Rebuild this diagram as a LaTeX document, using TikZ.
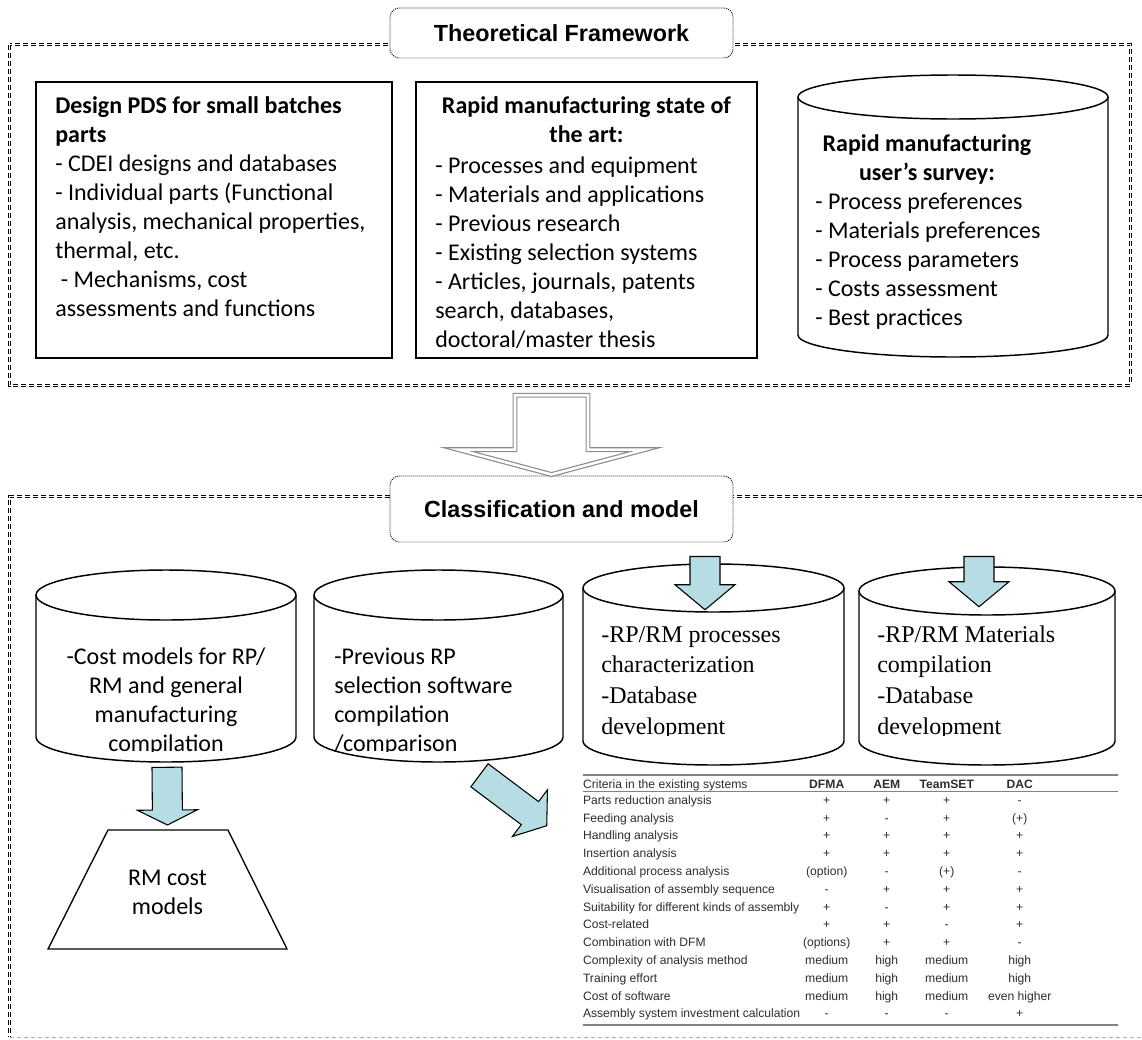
\documentclass[tikz,border=0pt]{standalone}
\usepackage{fontspec}
\setmainfont{Carlito}
\newfontfamily\headfont{Liberation Sans}
\newfontfamily\serffont{Liberation Serif}
\usetikzlibrary{calc,fit}
\definecolor{arrowblue}{RGB}{183,221,228}
\definecolor{hollowgray}{RGB}{140,140,140}
\definecolor{tabrule}{RGB}{130,130,130}
\definecolor{tabtext}{RGB}{45,45,45}

% database drum: name, x left, x right, y top, y bottom, end-ellipse y radius (px)
\newcommand\drum[6]{%
  \node[fit={(#2,#4) (#3,#5)}, inner sep=0] (#1) {};
  \draw[drumline] (#2,#4+#6) -- (#2,#5-#6)
     arc[start angle=180, end angle=360, x radius={(#3-#2)*0.375pt}, y radius={#6*0.75pt}]
     -- (#3,#4+#6)
     arc[start angle=0, end angle=180, x radius={(#3-#2)*0.375pt}, y radius={#6*0.75pt}]
     -- cycle;
  \draw[drumline] (#2,#4+#6)
     arc[start angle=180, end angle=360, x radius={(#3-#2)*0.375pt}, y radius={#6*0.75pt}];
}

% filled block arrow: tail, tip, shaft half width, head half width, head length
\newcommand\fatarrow[5]{%
  \coordinate (fabase) at ($(#2)!#5!(#1)$);
  \draw[bluearrow] ($(#1)!#3!90:(#2)$) -- ($(fabase)!#3!90:(#2)$)
     -- ($(fabase)!#4!90:(#2)$) -- (#2) -- ($(fabase)!#4!-90:(#2)$)
     -- ($(fabase)!#3!-90:(#2)$) -- ($(#1)!#3!-90:(#2)$) -- cycle;
}

\begin{document}
\begin{tikzpicture}[x=0.75pt, y=-0.75pt,
  frame/.style={draw=black, line width=0.6pt, double=white, double distance=0.9pt,
    dash pattern=on 3.75pt off 2.25pt},
  lightdash/.style={draw=black!30, line width=0.6pt, dash pattern=on 3pt off 2.25pt},
  titlebox/.style={draw, fill=white, line width=0.7pt, dash pattern=on 0.7pt off 0.8pt,
    rounded corners=7pt, minimum width=257.25pt, inner sep=0,
    font=\headfont\bfseries\fontsize{17.5}{21}\selectfont},
  box/.style={draw, line width=1.4pt, inner sep=0},
  drumline/.style={draw, line width=1.1pt},
  body/.style={inner sep=0, font=\fontsize{18}{21.75}\selectfont},
  bodybf/.style={inner sep=0, font=\bfseries\fontsize{18}{21.75}\selectfont},
  serif/.style={inner sep=0, font=\serffont\fontsize{18}{23}\selectfont},
  bluearrow/.style={fill=arrowblue, draw=black, line width=0.8pt, line join=miter},
  hollowarrow/.style={draw=hollowgray, line width=0.9pt, double=white,
    double distance=1.9pt, line join=miter},
  tabcell/.style={inner sep=0, text=tabtext, font=\headfont\fontsize{9.1}{10}\selectfont},
  tabhead/.style={tabcell, font=\headfont\bfseries\fontsize{9.1}{10}\selectfont},
  tabline/.style={draw=tabrule}
]
\useasboundingbox (0,0) rectangle (1142,1039);

% ---------------- theoretical framework ----------------
% (multi-line nodes are anchored at the baseline of their last line)
\node[fit={(10,45) (1130,385)}, inner sep=0] (theory) {};
\draw[frame] (theory.north west) rectangle (theory.south east);
\node[titlebox, minimum height=37.5pt] (ttheory) at (561.5,33) {Theoretical Framework};

\node[box, minimum width=267pt, minimum height=207pt] (pds) at (214,220) {};
\node[body, align=left, anchor=base west] (pdstxt) at (55,316)
  {\textbf{Design PDS for small batches}\\\textbf{parts}\\- CDEI designs and databases\\
   - Individual parts (Functional\\analysis, mechanical properties,\\thermal, etc.\\
   \hspace*{0.23em}- Mechanisms, cost\\assessments and functions};

\node[box, minimum width=255.75pt, minimum height=207pt] (art) at (586.5,220) {};
\node[bodybf, align=center, anchor=base] (arthead) at (586.5,142)
  {Rapid manufacturing state of\\the art:};
\node[body, align=left, anchor=base west] (arttxt) at (435,347)
  {- Processes and equipment\\- Materials and applications\\- Previous research\\
   - Existing selection systems\\- Articles, journals, patents\\search, databases,\\
   doctoral/master thesis};

\drum{survey}{798}{1108}{75}{357}{22}
\node[bodybf, align=center, anchor=base] (surveyhead) at (927,180)
  {Rapid manufacturing\\user’s survey:};
\node[body, align=left, anchor=base west] (surveytxt) at (815,325)
  {- Process preferences\\- Materials preferences\\- Process parameters\\
   - Costs assessment\\- Best practices};

% ---------------- classification and model ----------------
\node[fit={(10,497) (1142,1037)}, inner sep=0] (classif) {};
\draw[frame] (classif.north east) -- (classif.north west) -- (classif.south west);
\draw[lightdash] (classif.south west) -- (classif.south east);
\node[titlebox, minimum height=49.5pt] (tclass) at (561.5,509) {Classification and model};

% hollow arrow between the two stages
\coordinate (hs) at ($(theory.south)+(-18.5,10)$);
\coordinate (ht) at ($(tclass.north)+(-10,-1)$);
\draw[hollowarrow] ($(hs)+(-36.5,0)$) -- ($(ht)+(-36.5,-25)$) -- ($(ht)+(-93.5,-25)$)
  -- (ht) -- ($(ht)+(93.5,-25)$) -- ($(ht)+(36.5,-25)$) -- ($(hs)+(36.5,0)$) -- cycle;

\drum{c1}{36}{296}{570}{762}{25}
\drum{c2}{314}{563}{570}{762}{25}
\drum{c3}{583}{844}{564}{765}{24}
\drum{c4}{859}{1115}{567}{765}{24}

\begin{scope}
  \clip (36,600) rectangle (563,751);
  \node[body, align=center, anchor=base] (c1txt) at (166,751)
    {-Cost models for RP/\\RM and general\\manufacturing\\compilation};
  \node[body, align=left, anchor=base west] (c2txt) at (334,751)
    {-Previous RP\\selection software\\compilation\\/comparison};
\end{scope}
\begin{scope}
  \clip (583,600) rectangle (1115,735);
  \node[serif, align=left, anchor=base west] (c3txt) at (601,734)
    {-RP/RM processes\\characterization\\-Database\\development};
  \node[serif, align=left, anchor=base west] (c4txt) at (877,734)
    {-RP/RM Materials\\compilation\\-Database\\development};
\end{scope}

% cost model trapezium
\coordinate (trapTop) at (167.5,830);
\draw[line width=1pt] (48,949) -- (108,830) -- (228,830) -- (287,949) -- cycle;
\node[body, align=center, anchor=base] (rmcost) at (167.5,914) {RM cost\\models};

% comparison table of existing systems
\node[fit={(583,770) (1118,1028)}, inner sep=0] (tab) {};
\begin{scope}[shift={(tab.north west)}]
  \draw[tabline, line width=1.5pt] (0,5) -- (535,5);
  \draw[tabline, line width=1.1pt] (0,22) -- (535,22);
  \draw[tabline, line width=1.8pt] (0,255) -- (535,255);
  \node[tabcell, anchor=base west] (th0) at (0,18.5) {Criteria in the existing systems};
  \node[tabhead, anchor=base] (th1) at (244,18.5) {DFMA};
  \node[tabhead, anchor=base] (th2) at (304,18.5) {AEM};
  \node[tabhead, anchor=base] (th3) at (364,18.5) {TeamSET};
  \node[tabhead, anchor=base] (th4) at (437,18.5) {DAC};
  \foreach \lab/\va/\vb/\vc/\vd [count=\i] in {
    Parts reduction analysis/+/+/+/-,
    Feeding analysis/+/-/+/(+),
    Handling analysis/+/+/+/+,
    Insertion analysis/+/+/+/+,
    Additional process analysis/(option)/-/(+)/-,
    Visualisation of assembly sequence/-/+/+/+,
    Suitability for different kinds of assembly/+/-/+/+,
    Cost-related/+/+/-/+,
    Combination with DFM/(options)/+/+/-,
    Complexity of analysis method/medium/high/medium/high,
    Training effort/medium/high/medium/high,
    Cost of software/medium/high/medium/even higher,
    Assembly system investment calculation/-/-/-/+}
  {
    \pgfmathsetmacro\yb{34.5+(\i-1)*17.8}
    \node[tabcell, anchor=base west] (r\i-0) at (0,\yb) {\lab};
    \node[tabcell, anchor=base] (r\i-1) at (244,\yb) {\va};
    \node[tabcell, anchor=base] (r\i-2) at (304,\yb) {\vb};
    \node[tabcell, anchor=base] (r\i-3) at (364,\yb) {\vc};
    \node[tabcell, anchor=base] (r\i-4) at (437,\yb) {\vd};
  }
\end{scope}

% block arrows
\coordinate (a1s) at ($(c1.south)+(1,5)$);
\coordinate (a1e) at ($(trapTop)+(0,-5)$);
\fatarrow{a1s}{a1e}{11.25pt}{22.5pt}{11.25pt}
\coordinate (a2s) at ($(c2.south)+(41,13)$);
\coordinate (a2e) at ($(tab.north west)+(-36,56)$);
\fatarrow{a2s}{a2e}{10.8pt}{21.9pt}{15.75pt}
\coordinate (a3s) at ($(tclass.south)+(143.5,14)$);
\coordinate (a3e) at ($(c3.north)+(-8.5,46)$);
\fatarrow{a3s}{a3e}{11.25pt}{22.5pt}{18.75pt}
\coordinate (a4s) at ($(tclass.south)+(417.5,14)$);
\coordinate (a4e) at ($(c4.north)+(-8,40)$);
\fatarrow{a4s}{a4e}{11.25pt}{22.5pt}{18.75pt}
\end{tikzpicture}
\end{document}
